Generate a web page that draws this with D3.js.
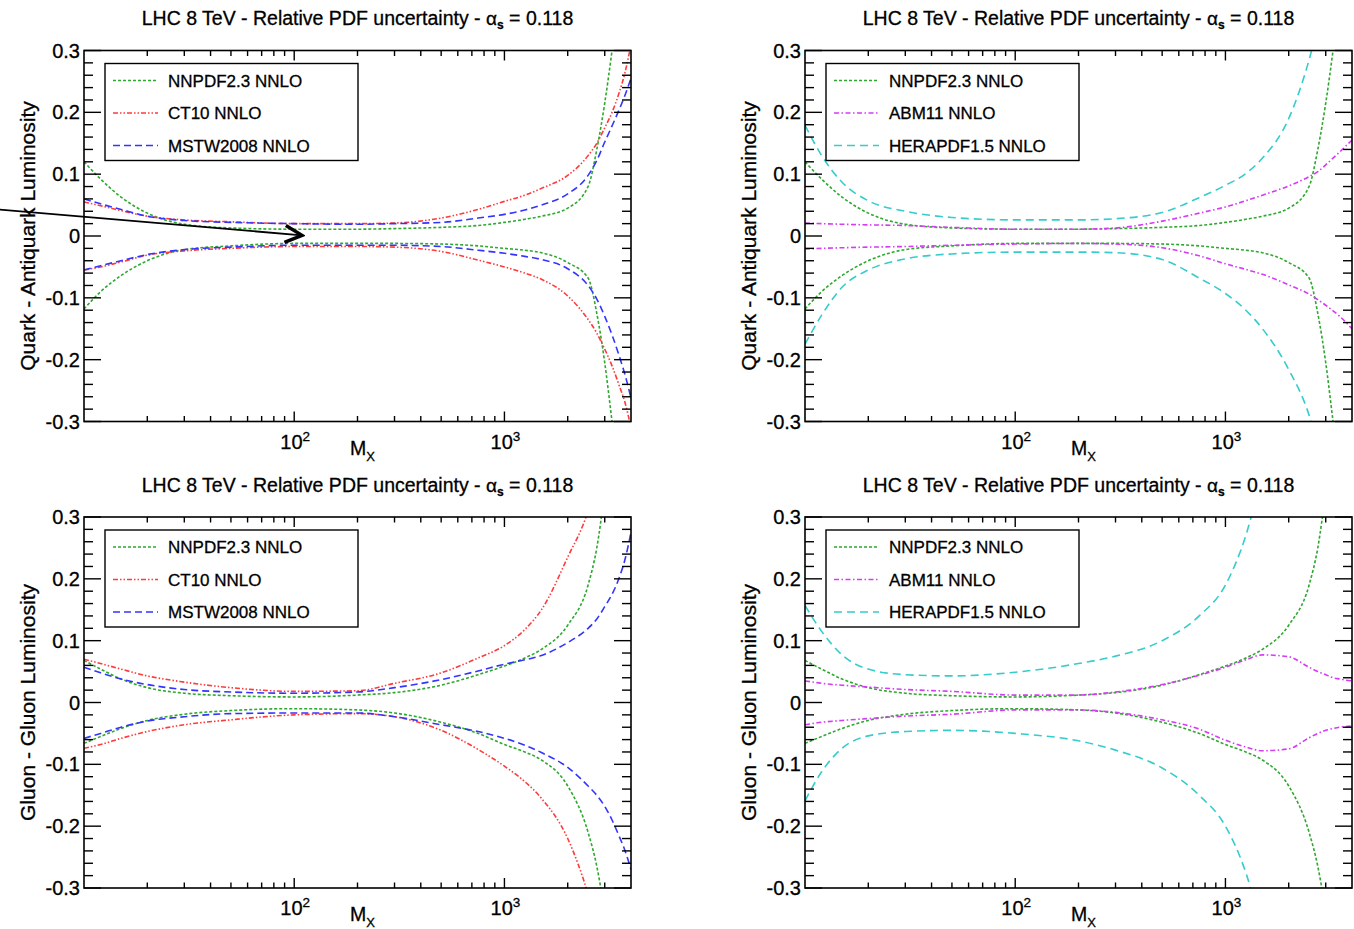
<!DOCTYPE html>
<html><head><meta charset="utf-8">
<script src="https://cdn.jsdelivr.net/npm/d3@7"></script>
<style>
body{margin:0;background:#fff;}
text{font-family:"Liberation Sans", Arial, Helvetica, sans-serif;fill:#000;stroke:#000;stroke-width:0.3px;}
</style>
</head><body>
<svg id="c" width="1354" height="929"></svg>
<script>
// ---------------- DATA ----------------
const massGrid = [10, 12, 15, 20, 30, 50, 100, 200, 300, 500, 750, 1000, 1250, 1500, 2000, 2500, 2750, 3000, 3250, 3500, 3750, 4000];

// Quark - Antiquark luminosity (relative PDF uncertainty, upper / lower bands)
const qqNNPDFUp = [0.120, 0.092, 0.063, 0.037, 0.019, 0.013, 0.011, 0.011, 0.012, 0.014, 0.017, 0.022, 0.027, 0.032, 0.045, 0.080, 0.140, 0.215, 0.300, 0.390, 0.480, 0.570];
const qqNNPDFDn = [-0.118, -0.090, -0.064, -0.040, -0.022, -0.016, -0.012, -0.012, -0.012, -0.013, -0.016, -0.020, -0.023, -0.027, -0.043, -0.068, -0.125, -0.205, -0.300, -0.390, -0.480, -0.570];
const qqCT10Up = [0.055, 0.049, 0.041, 0.032, 0.026, 0.023, 0.020, 0.020, 0.021, 0.029, 0.043, 0.056, 0.066, 0.077, 0.098, 0.130, 0.150, 0.175, 0.200, 0.230, 0.265, 0.310];
const qqCT10Dn = [-0.055, -0.050, -0.042, -0.031, -0.024, -0.020, -0.017, -0.017, -0.018, -0.025, -0.039, -0.050, -0.060, -0.070, -0.097, -0.135, -0.157, -0.183, -0.210, -0.240, -0.270, -0.310];
const qqMSTWUp = [0.060, 0.052, 0.043, 0.032, 0.025, 0.022, 0.020, 0.019, 0.020, 0.022, 0.029, 0.035, 0.042, 0.050, 0.068, 0.098, 0.122, 0.152, 0.178, 0.203, 0.228, 0.255];
const qqMSTWDn = [-0.055, -0.048, -0.040, -0.030, -0.022, -0.018, -0.015, -0.015, -0.015, -0.017, -0.023, -0.028, -0.033, -0.038, -0.053, -0.080, -0.102, -0.130, -0.160, -0.192, -0.225, -0.262];
const qqABMUp = [0.021, 0.020, 0.019, 0.018, 0.017, 0.014, 0.011, 0.011, 0.013, 0.024, 0.037, 0.047, 0.057, 0.066, 0.081, 0.096, 0.104, 0.115, 0.126, 0.136, 0.146, 0.155];
const qqABMDn = [-0.021, -0.020, -0.019, -0.018, -0.017, -0.015, -0.013, -0.012, -0.013, -0.019, -0.032, -0.045, -0.054, -0.062, -0.079, -0.094, -0.103, -0.112, -0.121, -0.130, -0.140, -0.150];
const qqHERAUp = [0.179, 0.130, 0.087, 0.057, 0.040, 0.030, 0.026, 0.026, 0.028, 0.038, 0.062, 0.082, 0.101, 0.126, 0.190, 0.285, 0.340, 0.400, 0.460, 0.520, 0.580, 0.640];
const qqHERADn = [-0.175, -0.128, -0.083, -0.055, -0.037, -0.029, -0.026, -0.026, -0.027, -0.038, -0.068, -0.093, -0.120, -0.150, -0.216, -0.290, -0.340, -0.400, -0.460, -0.520, -0.580, -0.640];

// Gluon - Gluon luminosity
const ggNNPDFUp = [0.068, 0.054, 0.038, 0.024, 0.015, 0.011, 0.009, 0.012, 0.016, 0.028, 0.045, 0.059, 0.072, 0.086, 0.125, 0.190, 0.250, 0.340, 0.430, 0.520, 0.610, 0.700];
const ggNNPDFDn = [-0.066, -0.055, -0.042, -0.029, -0.019, -0.013, -0.010, -0.012, -0.017, -0.032, -0.050, -0.068, -0.080, -0.093, -0.135, -0.210, -0.265, -0.340, -0.430, -0.520, -0.610, -0.700];
const ggCT10Up = [0.070, 0.063, 0.054, 0.043, 0.033, 0.024, 0.018, 0.019, 0.031, 0.048, 0.072, 0.092, 0.118, 0.150, 0.235, 0.310, 0.360, 0.410, 0.460, 0.510, 0.560, 0.610];
const ggCT10Dn = [-0.074, -0.068, -0.058, -0.047, -0.036, -0.028, -0.020, -0.018, -0.023, -0.045, -0.076, -0.103, -0.128, -0.155, -0.220, -0.310, -0.360, -0.410, -0.460, -0.510, -0.560, -0.610];
const ggMSTWUp = [0.057, 0.048, 0.038, 0.029, 0.021, 0.017, 0.015, 0.017, 0.024, 0.037, 0.051, 0.062, 0.069, 0.076, 0.097, 0.120, 0.135, 0.155, 0.175, 0.200, 0.232, 0.275];
const ggMSTWDn = [-0.058, -0.050, -0.040, -0.030, -0.023, -0.018, -0.017, -0.017, -0.023, -0.036, -0.047, -0.058, -0.069, -0.081, -0.105, -0.135, -0.150, -0.168, -0.190, -0.215, -0.240, -0.270];
const ggABMUp = [0.035, 0.031, 0.028, 0.025, 0.021, 0.018, 0.012, 0.012, 0.017, 0.029, 0.044, 0.057, 0.069, 0.077, 0.074, 0.057, 0.050, 0.045, 0.040, 0.038, 0.036, 0.035];
const ggABMDn = [-0.036, -0.032, -0.029, -0.026, -0.022, -0.019, -0.012, -0.012, -0.016, -0.028, -0.043, -0.061, -0.072, -0.078, -0.075, -0.057, -0.050, -0.045, -0.042, -0.040, -0.039, -0.038];
const ggHERAUp = [0.157, 0.115, 0.077, 0.054, 0.045, 0.043, 0.049, 0.063, 0.075, 0.100, 0.140, 0.190, 0.270, 0.370, 0.530, 0.680, 0.760, 0.830, 0.900, 0.970, 1.030, 1.090];
const ggHERADn = [-0.159, -0.112, -0.074, -0.054, -0.047, -0.045, -0.050, -0.062, -0.077, -0.106, -0.150, -0.200, -0.275, -0.370, -0.530, -0.680, -0.760, -0.830, -0.900, -0.970, -1.030, -1.090];

const yTicks = [-0.3, -0.2, -0.1, 0, 0.1, 0.2, 0.3];
const yTickLabels = ["-0.3", "-0.2", "-0.1", "0", "0.1", "0.2", "0.3"];
const xMajorTicks = [100, 1000];
const xTickExponents = ["2", "3"];
const titleMain = "LHC 8 TeV - Relative PDF uncertainty - ";
const titleTail = " = 0.118";
const yTitles = ["Quark - Antiquark Luminosity", "Gluon - Gluon Luminosity"];
const setNames = {NNPDF: "NNPDF2.3 NNLO", CT10: "CT10 NNLO", MSTW: "MSTW2008 NNLO", ABM: "ABM11 NNLO", HERA: "HERAPDF1.5 NNLO"};
// annotation arrow (data coords of top-left panel): [mass, value]
const arrowFrom = [3.9, 0.043];
const arrowTo = [109, 0.001];

// ---------------- STYLE / LAYOUT ----------------
const styles = {
  NNPDF: {color: "#2ea82e", dash: "3,2"},
  CT10:  {color: "#ff3a3a", dash: "5,2,1.5,2,1.5,2"},
  MSTW:  {color: "#3434ff", dash: "7,4"},
  ABM:   {color: "#d53cf5", dash: "5,2.5,1.5,2.5"},
  HERA:  {color: "#36cccc", dash: "8,5"}
};
const W = 547, H = 371;
const panels = [
  {x0: 84,  y0: 50.5, yTitle: yTitles[0], sets: [["NNPDF", qqNNPDFUp, qqNNPDFDn], ["CT10", qqCT10Up, qqCT10Dn], ["MSTW", qqMSTWUp, qqMSTWDn]], arrow: true},
  {x0: 805, y0: 50.5, yTitle: yTitles[0], sets: [["NNPDF", qqNNPDFUp, qqNNPDFDn], ["ABM", qqABMUp, qqABMDn], ["HERA", qqHERAUp, qqHERADn]]},
  {x0: 84,  y0: 517,  yTitle: yTitles[1], sets: [["NNPDF", ggNNPDFUp, ggNNPDFDn], ["CT10", ggCT10Up, ggCT10Dn], ["MSTW", ggMSTWUp, ggMSTWDn]]},
  {x0: 805, y0: 517,  yTitle: yTitles[1], sets: [["NNPDF", ggNNPDFUp, ggNNPDFDn], ["ABM", ggABMUp, ggABMDn], ["HERA", ggHERAUp, ggHERADn]]}
];

const svg = d3.select("#c");
const defs = svg.append("defs");
defs.append("marker").attr("id", "arrowhead").attr("viewBox", "0 0 22 22").attr("refX", 19).attr("refY", 11)
  .attr("markerWidth", 22).attr("markerHeight", 22).attr("markerUnits", "userSpaceOnUse").attr("orient", "auto")
  .append("path").attr("d", "M2,2.5 L19,11 L2,19.5").attr("fill", "none").attr("stroke", "#000").attr("stroke-width", 3.4);

panels.forEach((p, i) => {
  const g = svg.append("g").attr("transform", `translate(${p.x0},${p.y0})`);
  const x = d3.scaleLog().domain([10, 4000]).range([0, W]);
  const y = d3.scaleLinear().domain([-0.3, 0.3]).range([H, 0]);

  defs.append("clipPath").attr("id", "clip" + i).append("rect").attr("width", W).attr("height", H);

  // title
  const t = g.append("text").attr("x", W / 2).attr("y", -25.5).attr("text-anchor", "middle").attr("font-size", 19.5);
  t.append("tspan").text(titleMain);
  t.append("tspan").text("α").attr("font-size", 19);
  t.append("tspan").text("s").attr("font-size", 12).attr("font-weight", "bold").attr("dy", 4);
  t.append("tspan").text(titleTail).attr("dy", -4);

  // curves
  const line = d3.line().x(d => x(d[0])).y(d => y(d[1])).curve(d3.curveMonotoneX);
  const cg = g.append("g").attr("clip-path", `url(#clip${i})`);
  p.sets.forEach(([key, up, dn]) => {
    [up, dn].forEach(vals => {
      cg.append("path").datum(massGrid.map((m, k) => [m, vals[k]]))
        .attr("d", line).attr("fill", "none").attr("stroke", styles[key].color)
        .attr("stroke-width", 1.6).attr("stroke-dasharray", styles[key].dash);
    });
  });

  // frame
  g.append("rect").attr("width", W).attr("height", H).attr("fill", "none").attr("stroke", "#000").attr("stroke-width", 1.6);

  // y ticks (left + right, inward)
  const yMinor = d3.range(-0.3, 0.3001, 0.02).map(v => Math.round(v * 100) / 100);
  const tickG = g.append("g").attr("stroke", "#000").attr("stroke-width", 1.4);
  yMinor.forEach(v => {
    const isMajor = Math.abs(Math.round(v * 10) - v * 10) < 1e-6;
    const len = isMajor ? 17 : 9;
    tickG.append("line").attr("x1", 0).attr("x2", len).attr("y1", y(v)).attr("y2", y(v));
    tickG.append("line").attr("x1", W).attr("x2", W - len).attr("y1", y(v)).attr("y2", y(v));
  });
  // x ticks (bottom + top, inward)
  const xTickVals = [];
  [10, 100, 1000].forEach(dec => { for (let k = 1; k <= 9; k++) { const v = dec * k; if (v > 10 && v < 4000) xTickVals.push(v); } });
  xTickVals.forEach(v => {
    const isMajor = xMajorTicks.includes(v);
    const len = isMajor ? 10 : 5.5;
    tickG.append("line").attr("x1", x(v)).attr("x2", x(v)).attr("y1", H).attr("y2", H - len);
    tickG.append("line").attr("x1", x(v)).attr("x2", x(v)).attr("y1", 0).attr("y2", len);
  });

  // y tick labels
  yTicks.forEach((v, k) => {
    g.append("text").attr("x", -4).attr("y", y(v)).attr("dy", "0.35em").attr("text-anchor", "end")
      .attr("font-size", 20).text(yTickLabels[k]);
  });
  // x tick labels
  xMajorTicks.forEach((v, k) => {
    const tx = g.append("text").attr("x", x(v) + 1).attr("y", H + 27).attr("text-anchor", "middle").attr("font-size", 20);
    tx.append("tspan").text("10");
    tx.append("tspan").text(xTickExponents[k]).attr("font-size", 13.5).attr("dy", -8);
  });
  // x title
  const xt = g.append("text").attr("x", W / 2 + 5).attr("y", H + 33).attr("text-anchor", "middle").attr("font-size", 19.5);
  xt.append("tspan").text("M");
  xt.append("tspan").text("X").attr("font-size", 13).attr("dy", 6);
  // y title
  g.append("text").attr("transform", `translate(${-56},${H / 2}) rotate(-90)`).attr("text-anchor", "middle")
    .attr("dy", "0.35em").attr("font-size", 21).text(p.yTitle);

  // legend
  const lg = g.append("g").attr("transform", "translate(21,13)");
  lg.append("rect").attr("width", 253).attr("height", 97).attr("fill", "#fff").attr("stroke", "#000").attr("stroke-width", 1.4);
  p.sets.forEach(([key], k) => {
    const ly = 17 + k * 32.5;
    lg.append("line").attr("x1", 8).attr("x2", 53).attr("y1", ly).attr("y2", ly)
      .attr("stroke", styles[key].color).attr("stroke-width", 1.5).attr("stroke-dasharray", styles[key].dash);
    lg.append("text").attr("x", 63).attr("y", ly).attr("dy", "0.36em").attr("font-size", 17).text(setNames[key]);
  });

  if (p.arrow) {
    svg.append("line")
      .attr("x1", p.x0 + x(arrowFrom[0])).attr("y1", p.y0 + y(arrowFrom[1]))
      .attr("x2", p.x0 + x(arrowTo[0])).attr("y2", p.y0 + y(arrowTo[1]))
      .attr("stroke", "#000").attr("stroke-width", 1.8).attr("marker-end", "url(#arrowhead)");
  }
});
</script>
</body></html>
